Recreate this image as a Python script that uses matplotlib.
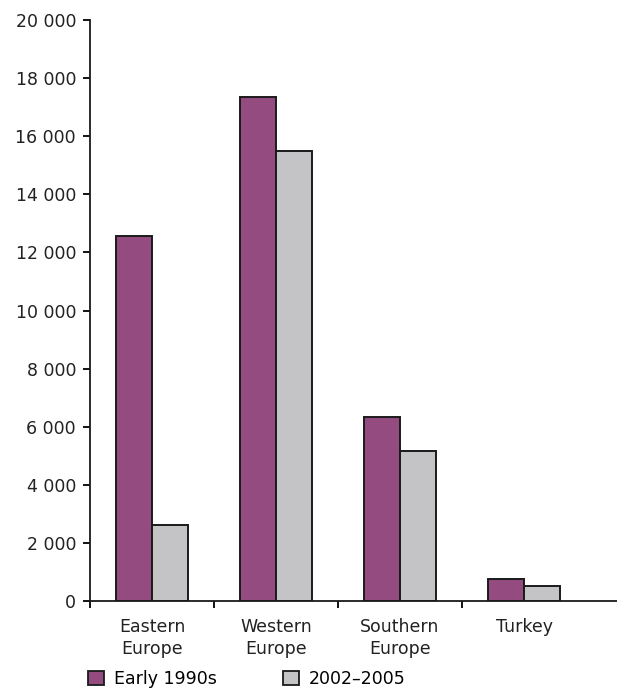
import matplotlib.pyplot as plt
from matplotlib.patches import Patch
import numpy as np

categories = ['Eastern\nEurope', 'Western\nEurope', 'Southern\nEurope', 'Turkey']
early_1990s = [12550, 17350, 6350, 750]
y2002_2005 = [2600, 15500, 5150, 500]
series_labels = ['Early 1990s', '2002\u20132005']

purple = '#934B80'
grey = '#C4C4C6'

fig = plt.figure(figsize=(6.17, 6.89), dpi=100)
ax = fig.add_axes([90 / 617, (689 - 601) / 689, 1 - 90 / 617, (601 - 20) / 689])

x = np.arange(len(categories))
w = 0.29
ax.bar(x - w / 2, early_1990s, width=w, color=purple, edgecolor='#1a1a1a', linewidth=1.4)
ax.bar(x + w / 2, y2002_2005, width=w, color=grey, edgecolor='#1a1a1a', linewidth=1.4)

ax.set_xlim(-0.5, 3.75)
ax.set_ylim(0, 20000)
ax.set_yticks(range(0, 20001, 2000))
ax.set_yticklabels([f'{v:,}'.replace(',', ' ') for v in range(0, 20001, 2000)])

# ticks between categories, labels in the middle
ax.set_xticks([-0.5, 0.5, 1.5, 2.5])
ax.set_xticklabels([])
ax.set_xticks(x, minor=True)
ax.set_xticklabels(categories, minor=True, fontsize=12.5, color='#222222', linespacing=1.3)
ax.tick_params(axis='x', which='minor', length=0, pad=12)
ax.tick_params(axis='x', which='major', length=5, width=1.3, direction='out')
ax.tick_params(axis='y', length=5, width=1.3, direction='out', labelsize=12.5, labelcolor='#222222', pad=5)

for s in ['top', 'right']:
    ax.spines[s].set_visible(False)
for s in ['left', 'bottom']:
    ax.spines[s].set_linewidth(1.3)
    ax.spines[s].set_color('#1a1a1a')

handles = [Patch(facecolor=purple, edgecolor='#1a1a1a', linewidth=1.3),
           Patch(facecolor=grey, edgecolor='#1a1a1a', linewidth=1.3)]
fig.legend(handles, series_labels, loc='lower left', bbox_to_anchor=(88 / 617, 1 / 689),
           ncol=2, frameon=False, fontsize=12.5, handlelength=0.9, handleheight=0.9,
           handletextpad=0.6, columnspacing=3.8, borderaxespad=0, borderpad=0)

plt.savefig('out.png', dpi=100)
